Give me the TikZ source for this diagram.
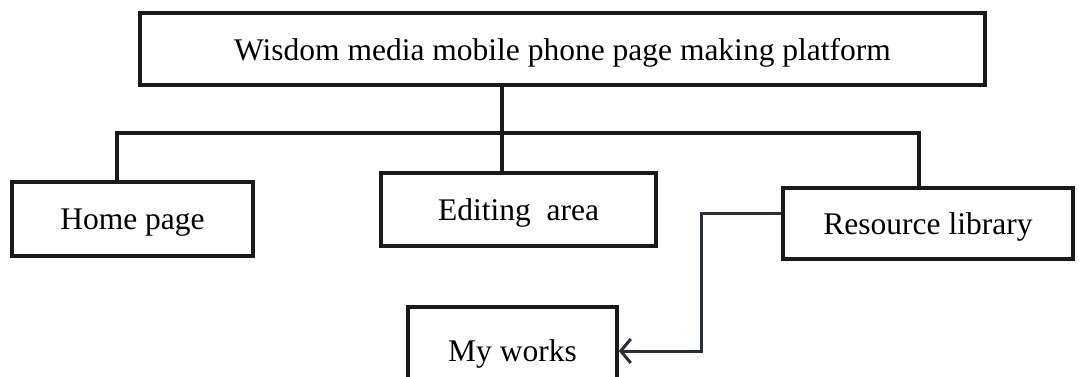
\documentclass[tikz,border=0pt]{standalone}
\usepackage{fontspec}
\setmainfont{Liberation Serif}
\usetikzlibrary{arrows.meta}
\definecolor{boxline}{HTML}{1A1A1A}
\definecolor{arrowline}{HTML}{2A2E38}
\begin{document}
\begin{tikzpicture}[x=1pt, y=-1pt,
    block/.style={draw=boxline, line width=3.6pt, inner sep=0pt, text depth=0pt, font=\fontsize{31.5}{36}\selectfont},
    link/.style={draw=boxline, line width=3.6pt},
    toarrow/.style={draw=arrowline, line width=3pt, -{Straight Barb[length=10pt, width=24pt]}}]
    \useasboundingbox (0,0) rectangle (1079,376);

    % top level
    \node[block, minimum width=845pt, minimum height=72pt] (platform) at (562.5, 49) {Wisdom media mobile phone page making platform};

    % second level
    \node[block, minimum width=241pt, minimum height=74pt] (home) at (132.5, 219) {Home page};
    \node[block, minimum width=275pt, minimum height=73pt] (edit) at (518.5, 209.5) {Editing\ \ area};
    \node[block, minimum width=290pt, minimum height=71pt] (library) at (928, 223.5) {Resource library};
    \node[block, minimum width=209pt, minimum height=88pt] (works) at (512.5, 351) {My works};

    % tree lines
    \coordinate (trunk) at (502, 133);
    \coordinate (busL) at (117, 133);
    \coordinate (busR) at (919, 133);
    \draw[link] (trunk |- platform.south) -- (trunk |- edit.north);
    \draw[link] (busL |- home.north) -- (busL) -- (busR) -- (busR |- library.north);

    % library to works
    \coordinate (bend) at (701, 213);
    \draw[toarrow] (library.west |- bend) -- (bend) |- (works.east);
\end{tikzpicture}
\end{document}
